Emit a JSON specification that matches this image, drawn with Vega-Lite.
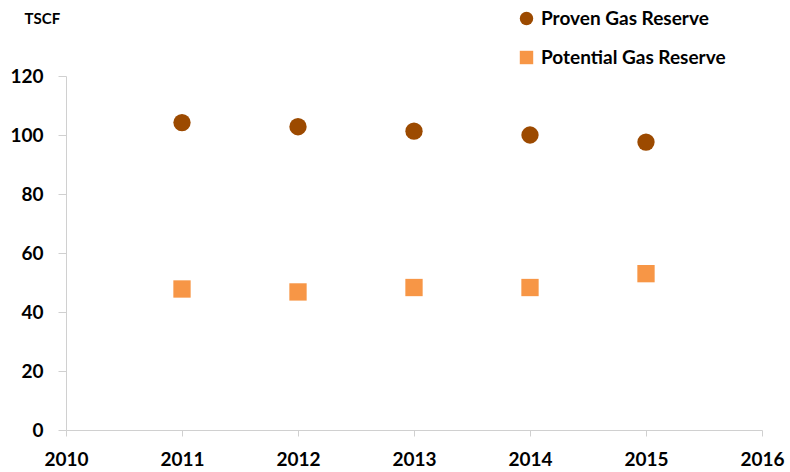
{
  "$schema": "https://vega.github.io/schema/vega-lite/v6.json",
  "width": 696,
  "height": 354,
  "autosize": {"type": "none"},
  "padding": {"left": 66, "top": 76, "right": 28, "bottom": 42},
  "background": "white",
  "config": {
    "view": {"stroke": null},
    "font": "Lato"
  },
  "data": {
    "values": [
      {"year": 2011, "series": "Proven Gas Reserve", "value": 104.2},
      {"year": 2012, "series": "Proven Gas Reserve", "value": 102.8},
      {"year": 2013, "series": "Proven Gas Reserve", "value": 101.3},
      {"year": 2014, "series": "Proven Gas Reserve", "value": 100.0},
      {"year": 2015, "series": "Proven Gas Reserve", "value": 97.6},
      {"year": 2011, "series": "Potential Gas Reserve", "value": 47.8},
      {"year": 2012, "series": "Potential Gas Reserve", "value": 46.8},
      {"year": 2013, "series": "Potential Gas Reserve", "value": 48.3},
      {"year": 2014, "series": "Potential Gas Reserve", "value": 48.3},
      {"year": 2015, "series": "Potential Gas Reserve", "value": 53.0}
    ]
  },
  "mark": {"type": "point", "filled": true, "opacity": 1, "size": 300},
  "encoding": {
    "x": {
      "field": "year",
      "type": "quantitative",
      "scale": {"domain": [2010, 2016], "nice": false, "zero": false},
      "axis": {
        "title": null,
        "values": [2010, 2011, 2012, 2013, 2014, 2015, 2016],
        "format": "d",
        "grid": false,
        "domainColor": "#d0d0d0",
        "tickColor": "#d0d0d0",
        "tickSize": 6,
        "labelPadding": 14,
        "labelFontSize": 19,
        "labelFontWeight": "bold",
        "labelColor": "#000000",
        "labelFlush": false
      }
    },
    "y": {
      "field": "value",
      "type": "quantitative",
      "scale": {"domain": [0, 120], "nice": false},
      "axis": {
        "title": "TSCF",
        "titleAngle": 0,
        "titleX": -42,
        "titleY": -58,
        "titleAlign": "left",
        "titleBaseline": "middle",
        "titleFontSize": 15,
        "titleFontWeight": "bold",
        "titleColor": "#000000",
        "values": [0, 20, 40, 60, 80, 100, 120],
        "grid": false,
        "domainColor": "#d0d0d0",
        "tickColor": "#d0d0d0",
        "tickSize": 8,
        "labelPadding": 15,
        "labelFontSize": 19,
        "labelFontWeight": "bold",
        "labelColor": "#000000"
      }
    },
    "color": {
      "field": "series",
      "type": "nominal",
      "scale": {
        "domain": ["Proven Gas Reserve", "Potential Gas Reserve"],
        "range": ["#9C4A00", "#F79646"]
      },
      "legend": {
        "title": null,
        "orient": "none",
        "legendX": 451,
        "legendY": -67,
        "rowPadding": 19,
        "symbolSize": 180,
        "labelFontSize": 19,
        "labelFontWeight": "bold",
        "labelColor": "#000000",
        "labelOffset": 5,
        "labelLimit": 300,
        "symbolOpacity": 1
      }
    },
    "shape": {
      "field": "series",
      "type": "nominal",
      "scale": {
        "domain": ["Proven Gas Reserve", "Potential Gas Reserve"],
        "range": ["circle", "square"]
      },
      "legend": null
    }
  }
}
